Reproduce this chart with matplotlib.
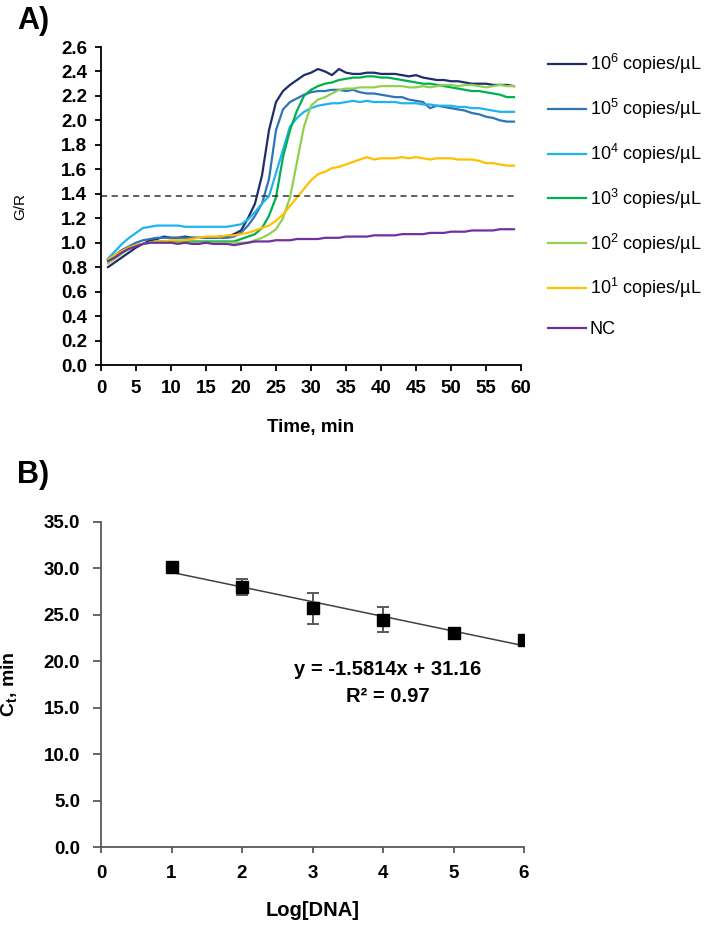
import numpy as np
import matplotlib
matplotlib.use("Agg")
import matplotlib.pyplot as plt

plt.rcParams['font.family'] = ['Liberation Sans', 'DejaVu Sans']
plt.rcParams['mathtext.fontset'] = 'custom'
plt.rcParams['mathtext.rm'] = 'Liberation Sans'
plt.rcParams['mathtext.bf'] = 'Liberation Sans:bold'
plt.rcParams['mathtext.it'] = 'Liberation Sans:italic'

# ---- panel A: amplification curves, one reading per minute ----
time_min = list(range(1, 60))

g_r_1e6 = [0.80, 0.84, 0.88, 0.92, 0.96, 0.99, 1.02, 1.03, 1.05, 1.04,
           1.04, 1.05, 1.04, 1.04, 1.04, 1.04, 1.05, 1.05, 1.07, 1.10,
           1.20, 1.32, 1.55, 1.92, 2.15, 2.24, 2.29, 2.33, 2.37, 2.39,
           2.42, 2.40, 2.37, 2.42, 2.39, 2.38, 2.38, 2.39, 2.39, 2.38,
           2.38, 2.38, 2.37, 2.36, 2.37, 2.35, 2.34, 2.33, 2.33, 2.32,
           2.32, 2.31, 2.30, 2.30, 2.30, 2.29, 2.29, 2.29, 2.28]
g_r_1e5 = [0.86, 0.90, 0.94, 0.97, 1.00, 1.02, 1.03, 1.04, 1.04, 1.04,
           1.04, 1.04, 1.04, 1.04, 1.04, 1.04, 1.04, 1.04, 1.05, 1.08,
           1.14, 1.22, 1.32, 1.52, 1.92, 2.09, 2.15, 2.18, 2.21, 2.23,
           2.24, 2.24, 2.25, 2.25, 2.24, 2.25, 2.23, 2.22, 2.22, 2.21,
           2.20, 2.19, 2.19, 2.17, 2.16, 2.15, 2.10, 2.12, 2.11, 2.10,
           2.09, 2.08, 2.06, 2.05, 2.03, 2.02, 2.00, 1.99, 1.99]
g_r_1e4 = [0.87, 0.93, 0.99, 1.04, 1.08, 1.12, 1.13, 1.14, 1.14, 1.14,
           1.14, 1.13, 1.13, 1.13, 1.13, 1.13, 1.13, 1.13, 1.14, 1.15,
           1.19, 1.25, 1.32, 1.38, 1.57, 1.76, 1.95, 2.02, 2.07, 2.10,
           2.12, 2.13, 2.14, 2.14, 2.15, 2.16, 2.15, 2.16, 2.15, 2.15,
           2.15, 2.15, 2.14, 2.14, 2.14, 2.13, 2.13, 2.12, 2.12, 2.12,
           2.11, 2.11, 2.10, 2.10, 2.09, 2.08, 2.07, 2.07, 2.07]
g_r_1e3 = [0.86, 0.90, 0.93, 0.96, 0.98, 0.99, 1.00, 1.01, 1.01, 1.01,
           1.01, 1.01, 1.01, 1.01, 1.01, 1.01, 1.01, 1.01, 1.01, 1.03,
           1.05, 1.07, 1.12, 1.22, 1.37, 1.70, 1.92, 2.08, 2.20, 2.25,
           2.28, 2.30, 2.31, 2.33, 2.34, 2.35, 2.35, 2.36, 2.36, 2.35,
           2.35, 2.34, 2.33, 2.32, 2.31, 2.30, 2.30, 2.29, 2.28, 2.27,
           2.26, 2.25, 2.24, 2.24, 2.23, 2.22, 2.21, 2.19, 2.19]
g_r_1e2 = [0.83, 0.87, 0.91, 0.95, 0.98, 0.99, 1.00, 1.00, 1.00, 1.00,
           1.00, 1.00, 1.00, 1.00, 1.00, 1.00, 1.00, 1.00, 1.00, 1.00,
           1.00, 1.02, 1.04, 1.07, 1.11, 1.20, 1.37, 1.66, 1.95, 2.12,
           2.17, 2.19, 2.22, 2.25, 2.26, 2.26, 2.27, 2.27, 2.27, 2.28,
           2.28, 2.28, 2.28, 2.27, 2.27, 2.28, 2.27, 2.28, 2.29, 2.29,
           2.28, 2.29, 2.29, 2.28, 2.27, 2.28, 2.29, 2.28, 2.28]
g_r_1e1 = [0.86, 0.90, 0.93, 0.96, 0.98, 0.99, 1.00, 1.01, 1.01, 1.02,
           1.02, 1.02, 1.03, 1.04, 1.05, 1.05, 1.05, 1.06, 1.06, 1.07,
           1.08, 1.10, 1.12, 1.14, 1.18, 1.23, 1.30, 1.37, 1.44, 1.51,
           1.56, 1.58, 1.61, 1.62, 1.64, 1.66, 1.68, 1.70, 1.68, 1.69,
           1.69, 1.69, 1.70, 1.69, 1.70, 1.69, 1.68, 1.69, 1.69, 1.69,
           1.68, 1.68, 1.68, 1.67, 1.65, 1.65, 1.64, 1.63, 1.63]
g_r_nc = [0.85, 0.88, 0.92, 0.95, 0.97, 0.99, 1.00, 1.00, 1.00, 1.00,
          0.99, 1.00, 0.99, 0.99, 1.00, 0.99, 0.99, 0.99, 0.98, 0.99,
          1.00, 1.01, 1.01, 1.01, 1.02, 1.02, 1.02, 1.03, 1.03, 1.03,
          1.03, 1.04, 1.04, 1.04, 1.05, 1.05, 1.05, 1.05, 1.06, 1.06,
          1.06, 1.06, 1.07, 1.07, 1.07, 1.07, 1.08, 1.08, 1.08, 1.09,
          1.09, 1.09, 1.10, 1.10, 1.10, 1.10, 1.11, 1.11, 1.11]

series_labels = ['10$^6$ copies/\u00b5L', '10$^5$ copies/\u00b5L', '10$^4$ copies/\u00b5L',
                 '10$^3$ copies/\u00b5L', '10$^2$ copies/\u00b5L', '10$^1$ copies/\u00b5L', 'NC']
series_colors = ['#1f2d6b', '#2e75b6', '#1fb4f0', '#00b050', '#92d050', '#ffc000', '#7030a0']
threshold = 1.385
time_end = 59

# ---- panel B: standard curve ----
log_dna = [1, 2, 3, 4, 5, 6]
ct_mean = [30.2, 28.0, 25.7, 24.5, 23.1, 22.3]
ct_err = [0.3, 0.9, 1.7, 1.3, 0.3, 0.3]
slope = -1.5814
intercept = 31.16
r_squared = 0.97

fig = plt.figure(figsize=(7.08, 9.33), dpi=100)
W, H = 708, 933

# panel A
ax1 = fig.add_axes([101 / W, 1 - 365 / H, 420 / W, 318 / H])
all_series = [g_r_1e6, g_r_1e5, g_r_1e4, g_r_1e3, g_r_1e2, g_r_1e1, g_r_nc]
for vals, lab, col in zip(all_series, series_labels, series_colors):
    ax1.plot(time_min, vals, color=col, lw=1.6, label=lab)
ax1.plot([0, time_end], [threshold, threshold], color='#333333', lw=1.1, ls=(0, (4, 3)))
ax1.set_xlim(0, 60)
ax1.set_ylim(0, 2.6)
ax1.set_xticks(np.arange(0, 61, 5))
ax1.set_yticks(np.arange(0, 2.61, 0.2))
ax1.set_yticklabels(['%.1f' % v for v in np.arange(0, 2.61, 0.2)])
for s in ['top', 'right']:
    ax1.spines[s].set_visible(False)
for s in ['left', 'bottom']:
    ax1.spines[s].set_linewidth(1.3)
ax1.tick_params(direction='out', length=4, width=1.3, labelsize=13.5)
ax1.tick_params(axis='x', pad=7)
ax1.tick_params(axis='y', pad=6)
for lbl in ax1.get_xticklabels() + ax1.get_yticklabels():
    lbl.set_fontweight('bold')
ax1.set_xlabel('Time, min', fontsize=13.5, fontweight='bold')
ax1.xaxis.set_label_coords(0.5, -0.17)
ax1.set_ylabel('G/R', fontsize=11)
ax1.yaxis.set_label_coords(-0.176, 0.5)

fig.legend(loc='upper left', bbox_to_anchor=(548 / W, 1 - 52 / H), frameon=False,
           fontsize=13, handlelength=2.1, handletextpad=0.2, labelspacing=1.15,
           borderpad=0, borderaxespad=0)

# panel B
ax2 = fig.add_axes([101 / W, 1 - 847 / H, 423 / W, 325 / H])
fit_x = np.array([log_dna[0], log_dna[-1]])
ax2.plot(fit_x, slope * fit_x + intercept, color='#404040', lw=1.1, zorder=2)
ax2.errorbar(log_dna, ct_mean, yerr=ct_err, fmt='s', color='black', ms=8.5,
             ecolor='#595959', elinewidth=1.4, capsize=4.5, capthick=1.4, zorder=3)
ax2.set_xlim(0, 6)
ax2.set_ylim(0, 35)
ax2.set_xticks(range(0, 7))
ax2.set_yticks(np.arange(0, 35.1, 5))
ax2.set_yticklabels(['%.1f' % v for v in np.arange(0, 35.1, 5)])
for s in ['top', 'right']:
    ax2.spines[s].set_visible(False)
for s in ['left', 'bottom']:
    ax2.spines[s].set_linewidth(1.3)
    ax2.spines[s].set_color('#595959')
ax2.tick_params(direction='out', width=1.3, color='#595959', labelsize=13.5)
ax2.tick_params(axis='x', length=4, pad=9)
ax2.tick_params(axis='y', length=6, pad=9)
for lbl in ax2.get_xticklabels() + ax2.get_yticklabels():
    lbl.set_fontweight('bold')
ax2.set_xlabel('Log[DNA]', fontsize=14.5, fontweight='bold')
ax2.xaxis.set_label_coords(0.5, -0.165)
ax2.set_ylabel(r'$\mathbf{C_t}$, min', fontsize=14, fontweight='bold')
ax2.yaxis.set_label_coords(-0.194, 0.5)
ax2.text(4.07, 19.1, 'y = %.4fx + %.2f' % (slope, intercept), ha='center', va='center',
         fontsize=14.5, fontweight='bold')
ax2.text(4.07, 16.2, 'R\u00b2 = %.2f' % r_squared, ha='center', va='center',
         fontsize=14.5, fontweight='bold')

fig.text(17 / W, 1 - 21 / H, 'A)', fontsize=22, fontweight='bold', ha='left', va='center')
fig.text(17 / W, 1 - 475 / H, 'B)', fontsize=22, fontweight='bold', ha='left', va='center')

fig.savefig('out.png', dpi=100)
